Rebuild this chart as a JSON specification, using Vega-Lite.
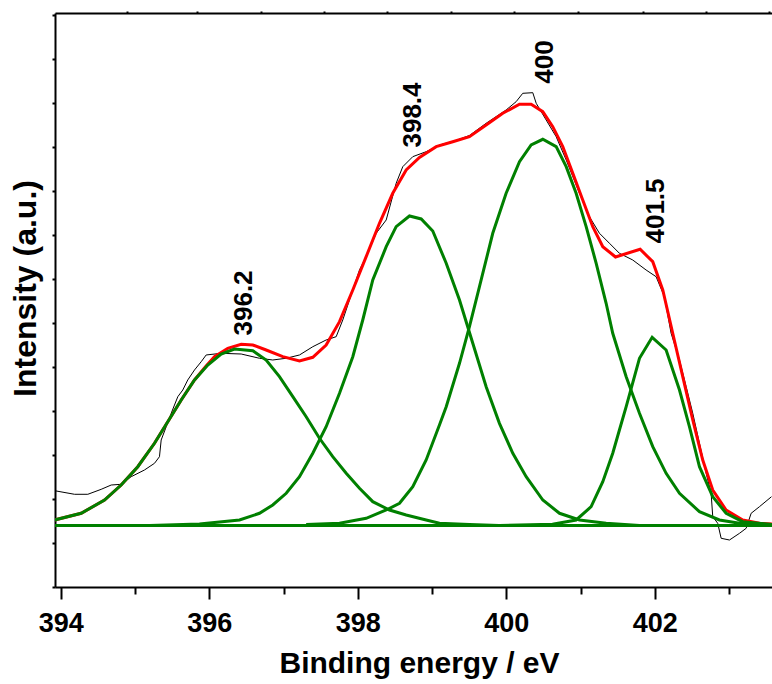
{
  "$schema": "https://vega.github.io/schema/vega-lite/v6.json",
  "width": 717,
  "height": 574,
  "autosize": {"type": "none"},
  "padding": {"left": 55, "top": 13, "right": 0, "bottom": 97},
  "background": "white",
  "config": {
    "view": {"stroke": null},
    "font": "Liberation Sans",
    "axis": {"grid": false, "domainColor": "black", "tickColor": "black", "domainWidth": 2, "tickWidth": 2, "labelFont": "Liberation Sans", "titleFont": "Liberation Sans", "labelColor": "black", "titleColor": "black"}
  },
  "datasets": {
    "raw": [
      {"x": 393.915, "y": 2.189}, {"x": 394.185, "y": 2.107}, {"x": 394.364, "y": 2.107}, {"x": 394.544, "y": 2.22},
      {"x": 394.679, "y": 2.318}, {"x": 394.813, "y": 2.334}, {"x": 394.948, "y": 2.507}, {"x": 395.127, "y": 2.659},
      {"x": 395.262, "y": 2.811}, {"x": 395.329, "y": 2.961}, {"x": 395.352, "y": 3.341}, {"x": 395.42, "y": 3.643},
      {"x": 395.487, "y": 3.948}, {"x": 395.576, "y": 4.325}, {"x": 395.643, "y": 4.477}, {"x": 395.71, "y": 4.705},
      {"x": 395.801, "y": 4.932}, {"x": 395.891, "y": 5.12}, {"x": 395.958, "y": 5.273}, {"x": 396.16, "y": 5.311},
      {"x": 396.43, "y": 5.295}, {"x": 396.676, "y": 5.198}, {"x": 396.855, "y": 5.159}, {"x": 397.036, "y": 5.198},
      {"x": 397.215, "y": 5.273}, {"x": 397.394, "y": 5.461}, {"x": 397.574, "y": 5.614}, {"x": 397.709, "y": 5.689},
      {"x": 397.798, "y": 6.068}, {"x": 397.888, "y": 6.523}, {"x": 398.023, "y": 7.205}, {"x": 398.113, "y": 7.507},
      {"x": 398.248, "y": 8.039}, {"x": 398.383, "y": 8.341}, {"x": 398.517, "y": 9.175}, {"x": 398.606, "y": 9.552},
      {"x": 398.741, "y": 9.78}, {"x": 398.921, "y": 9.893}, {"x": 399.1, "y": 10.045}, {"x": 399.302, "y": 10.136},
      {"x": 399.504, "y": 10.261}, {"x": 399.729, "y": 10.539}, {"x": 399.998, "y": 10.841}, {"x": 400.133, "y": 11.03},
      {"x": 400.222, "y": 11.22}, {"x": 400.357, "y": 11.234}, {"x": 400.403, "y": 10.993}, {"x": 400.537, "y": 10.614},
      {"x": 400.672, "y": 10.234}, {"x": 400.807, "y": 9.705}, {"x": 400.986, "y": 8.948}, {"x": 401.12, "y": 8.416},
      {"x": 401.255, "y": 8.039}, {"x": 401.39, "y": 7.811}, {"x": 401.524, "y": 7.584}, {"x": 401.703, "y": 7.432},
      {"x": 401.883, "y": 7.205}, {"x": 402.018, "y": 7.052}, {"x": 402.13, "y": 6.598}, {"x": 402.22, "y": 5.766},
      {"x": 402.333, "y": 5.159}, {"x": 402.423, "y": 4.552}, {"x": 402.512, "y": 3.948}, {"x": 402.602, "y": 3.266},
      {"x": 402.692, "y": 2.584}, {"x": 402.759, "y": 2.13}, {"x": 402.781, "y": 1.598}, {"x": 402.848, "y": 1.448},
      {"x": 402.894, "y": 1.107}, {"x": 403.006, "y": 1.068}, {"x": 403.141, "y": 1.22}, {"x": 403.231, "y": 1.334},
      {"x": 403.298, "y": 1.675}, {"x": 403.41, "y": 1.825}, {"x": 403.572, "y": 2.052}
    ],
    "envelope": [
      {"x": 393.915, "y": 1.523}, {"x": 394.275, "y": 1.675}, {"x": 394.589, "y": 1.977}, {"x": 394.813, "y": 2.318},
      {"x": 395.037, "y": 2.734}, {"x": 395.262, "y": 3.266}, {"x": 395.441, "y": 3.757}, {"x": 395.622, "y": 4.25},
      {"x": 395.801, "y": 4.705}, {"x": 395.96, "y": 5.03}, {"x": 396.07, "y": 5.234}, {"x": 396.249, "y": 5.425},
      {"x": 396.43, "y": 5.516}, {"x": 396.586, "y": 5.5}, {"x": 396.766, "y": 5.386}, {"x": 396.99, "y": 5.234},
      {"x": 397.215, "y": 5.136}, {"x": 397.394, "y": 5.22}, {"x": 397.574, "y": 5.5}, {"x": 397.754, "y": 6.03},
      {"x": 397.933, "y": 6.75}, {"x": 398.113, "y": 7.507}, {"x": 398.292, "y": 8.266}, {"x": 398.471, "y": 8.948},
      {"x": 398.652, "y": 9.477}, {"x": 398.831, "y": 9.761}, {"x": 399.056, "y": 10.007}, {"x": 399.279, "y": 10.12},
      {"x": 399.504, "y": 10.234}, {"x": 399.729, "y": 10.5}, {"x": 399.953, "y": 10.766}, {"x": 400.178, "y": 10.97},
      {"x": 400.335, "y": 10.97}, {"x": 400.492, "y": 10.802}, {"x": 400.626, "y": 10.461}, {"x": 400.761, "y": 10.007},
      {"x": 400.896, "y": 9.402}, {"x": 401.03, "y": 8.795}, {"x": 401.165, "y": 8.189}, {"x": 401.3, "y": 7.734},
      {"x": 401.471, "y": 7.5}, {"x": 401.803, "y": 7.675}, {"x": 401.973, "y": 7.393}, {"x": 402.108, "y": 6.75},
      {"x": 402.242, "y": 5.766}, {"x": 402.377, "y": 4.78}, {"x": 402.512, "y": 3.795}, {"x": 402.646, "y": 2.886},
      {"x": 402.781, "y": 2.205}, {"x": 402.961, "y": 1.75}, {"x": 403.185, "y": 1.523}, {"x": 403.41, "y": 1.448},
      {"x": 403.579, "y": 1.432}
    ],
    "components": [
      {"peak": "G1", "x": 393.915, "y": 1.523}, {"peak": "G1", "x": 394.275, "y": 1.675}, {"peak": "G1", "x": 394.589, "y": 1.977},
      {"peak": "G1", "x": 394.813, "y": 2.318}, {"peak": "G1", "x": 395.037, "y": 2.734}, {"peak": "G1", "x": 395.262, "y": 3.266},
      {"peak": "G1", "x": 395.441, "y": 3.757}, {"peak": "G1", "x": 395.622, "y": 4.25}, {"peak": "G1", "x": 395.801, "y": 4.705},
      {"peak": "G1", "x": 395.98, "y": 5.045}, {"peak": "G1", "x": 396.16, "y": 5.295}, {"peak": "G1", "x": 396.339, "y": 5.409},
      {"peak": "G1", "x": 396.586, "y": 5.37}, {"peak": "G1", "x": 396.766, "y": 5.159}, {"peak": "G1", "x": 396.945, "y": 4.78},
      {"peak": "G1", "x": 397.125, "y": 4.325}, {"peak": "G1", "x": 397.305, "y": 3.87}, {"peak": "G1", "x": 397.484, "y": 3.38},
      {"peak": "G1", "x": 397.663, "y": 2.961}, {"peak": "G1", "x": 397.844, "y": 2.584}, {"peak": "G1", "x": 398.023, "y": 2.243},
      {"peak": "G1", "x": 398.202, "y": 1.939}, {"peak": "G1", "x": 398.427, "y": 1.75}, {"peak": "G1", "x": 398.652, "y": 1.636},
      {"peak": "G1", "x": 398.921, "y": 1.523}, {"peak": "G1", "x": 399.1, "y": 1.448}, {"peak": "G1", "x": 399.504, "y": 1.42},
      {"peak": "G1", "x": 399.9, "y": 1.4},
      {"peak": "G2", "x": 395.195, "y": 1.4}, {"peak": "G2", "x": 395.868, "y": 1.43}, {"peak": "G2", "x": 396.407, "y": 1.523},
      {"peak": "G2", "x": 396.676, "y": 1.675}, {"peak": "G2", "x": 396.855, "y": 1.864}, {"peak": "G2", "x": 397.036, "y": 2.13},
      {"peak": "G2", "x": 397.215, "y": 2.507}, {"peak": "G2", "x": 397.394, "y": 3.039}, {"peak": "G2", "x": 397.574, "y": 3.643},
      {"peak": "G2", "x": 397.754, "y": 4.402}, {"peak": "G2", "x": 397.933, "y": 5.234}, {"peak": "G2", "x": 398.067, "y": 6.068},
      {"peak": "G2", "x": 398.202, "y": 6.977}, {"peak": "G2", "x": 398.383, "y": 7.734}, {"peak": "G2", "x": 398.517, "y": 8.189},
      {"peak": "G2", "x": 398.696, "y": 8.432}, {"peak": "G2", "x": 398.854, "y": 8.364}, {"peak": "G2", "x": 399.01, "y": 8.091},
      {"peak": "G2", "x": 399.191, "y": 7.357}, {"peak": "G2", "x": 399.37, "y": 6.523}, {"peak": "G2", "x": 399.549, "y": 5.539},
      {"peak": "G2", "x": 399.729, "y": 4.552}, {"peak": "G2", "x": 399.908, "y": 3.72}, {"peak": "G2", "x": 400.088, "y": 3.039},
      {"peak": "G2", "x": 400.268, "y": 2.507}, {"peak": "G2", "x": 400.492, "y": 1.977}, {"peak": "G2", "x": 400.717, "y": 1.675},
      {"peak": "G2", "x": 400.986, "y": 1.523}, {"peak": "G2", "x": 401.345, "y": 1.448}, {"peak": "G2", "x": 401.794, "y": 1.4},
      {"peak": "G3", "x": 397.305, "y": 1.42}, {"peak": "G3", "x": 397.754, "y": 1.448}, {"peak": "G3", "x": 398.113, "y": 1.561},
      {"peak": "G3", "x": 398.383, "y": 1.75}, {"peak": "G3", "x": 398.562, "y": 1.902}, {"peak": "G3", "x": 398.741, "y": 2.28},
      {"peak": "G3", "x": 398.921, "y": 2.886}, {"peak": "G3", "x": 399.1, "y": 3.68}, {"peak": "G3", "x": 399.191, "y": 4.098},
      {"peak": "G3", "x": 399.37, "y": 5.084}, {"peak": "G3", "x": 399.504, "y": 5.916}, {"peak": "G3", "x": 399.639, "y": 6.825},
      {"peak": "G3", "x": 399.818, "y": 8.039}, {"peak": "G3", "x": 399.998, "y": 8.948}, {"peak": "G3", "x": 400.178, "y": 9.666},
      {"peak": "G3", "x": 400.335, "y": 10.045}, {"peak": "G3", "x": 400.492, "y": 10.175}, {"peak": "G3", "x": 400.672, "y": 10.007},
      {"peak": "G3", "x": 400.807, "y": 9.552}, {"peak": "G3", "x": 400.941, "y": 8.948}, {"peak": "G3", "x": 401.076, "y": 8.189},
      {"peak": "G3", "x": 401.211, "y": 7.357}, {"peak": "G3", "x": 401.345, "y": 6.448}, {"peak": "G3", "x": 401.434, "y": 5.766},
      {"peak": "G3", "x": 401.615, "y": 4.78}, {"peak": "G3", "x": 401.794, "y": 3.948}, {"peak": "G3", "x": 401.973, "y": 3.189},
      {"peak": "G3", "x": 402.153, "y": 2.584}, {"peak": "G3", "x": 402.333, "y": 2.13}, {"peak": "G3", "x": 402.602, "y": 1.711},
      {"peak": "G3", "x": 402.871, "y": 1.523}, {"peak": "G3", "x": 403.141, "y": 1.448}, {"peak": "G3", "x": 403.579, "y": 1.42},
      {"peak": "G4", "x": 399.908, "y": 1.4}, {"peak": "G4", "x": 400.622, "y": 1.425}, {"peak": "G4", "x": 400.941, "y": 1.523},
      {"peak": "G4", "x": 401.143, "y": 1.825}, {"peak": "G4", "x": 401.3, "y": 2.393}, {"peak": "G4", "x": 401.434, "y": 3.039},
      {"peak": "G4", "x": 401.524, "y": 3.568}, {"peak": "G4", "x": 401.615, "y": 4.098}, {"peak": "G4", "x": 401.794, "y": 5.198},
      {"peak": "G4", "x": 401.965, "y": 5.675}, {"peak": "G4", "x": 402.153, "y": 5.386}, {"peak": "G4", "x": 402.333, "y": 4.477},
      {"peak": "G4", "x": 402.467, "y": 3.643}, {"peak": "G4", "x": 402.602, "y": 2.734}, {"peak": "G4", "x": 402.781, "y": 2.052},
      {"peak": "G4", "x": 402.961, "y": 1.675}, {"peak": "G4", "x": 403.185, "y": 1.484}, {"peak": "G4", "x": 403.5, "y": 1.432},
      {"peak": "G4", "x": 403.579, "y": 1.42},
      {"peak": "base", "x": 393.922, "y": 1.4}, {"peak": "base", "x": 403.579, "y": 1.4}
    ],
    "labels": [
      {"text": "396.2", "x": 396.461, "y": 6.455},
      {"text": "398.4", "x": 398.75, "y": 10.727},
      {"text": "400", "x": 400.528, "y": 11.932},
      {"text": "401.5", "x": 402.016, "y": 8.545}
    ]
  },
  "resolve": {"axis": {"x": "independent", "y": "independent"}},
  "layer": [
    {
      "data": {"name": "raw"},
      "mark": {"type": "line", "color": "black", "strokeWidth": 1, "clip": true},
      "encoding": {
        "x": {"field": "x", "type": "quantitative",
          "scale": {"domain": [393.922, 403.579], "nice": false, "zero": false},
          "axis": {"orient": "bottom", "values": [394, 396, 398, 400, 402], "format": "d", "tickSize": 12, "labelFontSize": 27, "labelFontWeight": "bold", "labelPadding": 32, "labelBaseline": "alphabetic", "labelFlush": false, "labelOverlap": false, "title": "Binding energy / eV", "titleFontSize": 30, "titleFontWeight": "bold", "titleX": 364, "titleAlign": "center", "titleY": 85, "titleBaseline": "alphabetic"}},
        "y": {"field": "y", "type": "quantitative",
          "scale": {"domain": [0, 13.045], "nice": false, "zero": false},
          "axis": {"orient": "left", "values": [0, 1, 2, 3, 4, 5, 6, 7, 8, 9, 10, 11, 12, 13], "tickSize": 3, "labels": false, "title": "Intensity (a.u.)", "titleFontSize": 32, "titleFontWeight": "bold", "titleAngle": 270, "titleX": -20, "titleY": 275, "titleAlign": "center", "titleBaseline": "alphabetic"}}
      }
    },
    {
      "data": {"name": "envelope"},
      "mark": {"type": "line", "color": "#ff0000", "strokeWidth": 3, "clip": true},
      "encoding": {
        "x": {"field": "x", "type": "quantitative",
          "scale": {"domain": [393.922, 403.579], "nice": false, "zero": false},
          "axis": {"orient": "bottom", "values": [395, 397, 399, 401, 403], "tickSize": 7, "labels": false, "domain": false, "title": null}},
        "y": {"field": "y", "type": "quantitative", "scale": {"domain": [0, 13.045], "nice": false, "zero": false}, "axis": null}
      }
    },
    {
      "data": {"name": "components"},
      "mark": {"type": "line", "color": "#008000", "strokeWidth": 3, "clip": true},
      "encoding": {
        "detail": {"field": "peak", "type": "nominal"},
        "x": {"field": "x", "type": "quantitative",
          "scale": {"domain": [393.922, 403.579], "nice": false, "zero": false},
          "axis": {"orient": "top", "values": [394.896, 395.84, 396.7, 397.55, 398.4, 399.26, 400.11, 400.96, 401.84, 402.69, 403.54], "tickSize": 2, "labels": false, "domain": true, "title": null}},
        "y": {"field": "y", "type": "quantitative", "scale": {"domain": [0, 13.045], "nice": false, "zero": false}, "axis": null}
      }
    },
    {
      "data": {"name": "labels"},
      "mark": {"type": "text", "angle": 270, "align": "center", "baseline": "middle", "fontSize": 26, "fontWeight": "bold", "color": "black", "font": "Liberation Sans"},
      "encoding": {
        "text": {"field": "text", "type": "nominal"},
        "x": {"field": "x", "type": "quantitative", "scale": {"domain": [393.922, 403.579], "nice": false, "zero": false}, "axis": null},
        "y": {"field": "y", "type": "quantitative", "scale": {"domain": [0, 13.045], "nice": false, "zero": false}, "axis": null}
      }
    }
  ]
}
